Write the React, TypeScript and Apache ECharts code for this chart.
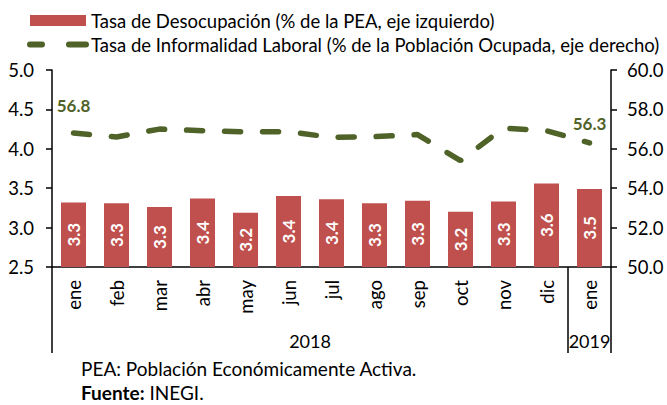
import React, { useEffect, useRef } from "react";
import * as echarts from "echarts";

const months = ["ene", "feb", "mar", "abr", "may", "jun", "jul", "ago", "sep", "oct", "nov", "dic", "ene"];
const years = [
  { label: "2018", count: 12 },
  { label: "2019", count: 1 },
];
const unemployment = [3.32, 3.31, 3.26, 3.37, 3.19, 3.4, 3.36, 3.31, 3.34, 3.2, 3.33, 3.56, 3.49];
const informality = [56.8, 56.6, 57.0, 56.92, 56.86, 56.87, 56.58, 56.62, 56.72, 55.4, 57.05, 56.92, 56.3];
const leftTicks = { min: 2.5, max: 5.0, interval: 0.5 };
const rightTicks = { min: 50, max: 60, interval: 2 };
const barName = "Tasa de Desocupación (% de la PEA, eje izquierdo)";
const lineName = "Tasa de Informalidad Laboral (% de la Población Ocupada, eje derecho)";
const footnote = "PEA: Población Económicamente Activa.";
const source = "INEGI.";

const FONT = "Lato";
const FS = 18.5;
const RED = "#C0504D";
const GREEN = "#4F6228";

export default function App() {
  const ref = useRef<HTMLDivElement>(null);
  useEffect(() => {
    document.body.style.margin = "0";
    if (!ref.current) return;
    const chart = echarts.init(ref.current, null, { renderer: "svg" });

    // year-level axis slots (half-category resolution)
    const slotCount = months.length * 2 + 1;
    const yearSlots: string[] = [];
    for (let i = 0; i < slotCount; i++) yearSlots.push("s" + i);
    const labelAt: Record<number, string> = {};
    const tickAt = new Set<number>([0]);
    let start = 0;
    years.forEach((y) => {
      labelAt[2 * start + y.count] = y.label;
      start += y.count;
      tickAt.add(2 * start);
    });

    const last = informality.length - 1;
    const lineData = informality.map((v, i) => ({
      value: v,
      label: {
        show: i === 0 || i === last,
        distance: i === 0 ? 19 : 11,
      },
    }));

    const axisLabelBase = { fontSize: FS, color: "#000", fontFamily: FONT };

    chart.setOption({
      animation: false,
      textStyle: { fontFamily: FONT, color: "#000" },
      grid: { left: 52, right: 56, top: 70, bottom: 138 },
      legend: {
        orient: "vertical",
        left: 22,
        top: 6,
        itemWidth: 56,
        itemHeight: 11,
        itemGap: 5,
        textStyle: { fontFamily: FONT, fontSize: FS, color: "#000" },
        data: [
          { name: barName, icon: "rect" },
          {
            name: lineName,
            itemStyle: { opacity: 0 },
            lineStyle: { width: 6, type: [12, 27, 17, 20], cap: "round", color: GREEN },
          },
        ],
      },
      xAxis: [
        {
          type: "category",
          data: months,
          axisLine: { lineStyle: { color: "#000", width: 1.5 } },
          axisTick: { show: false },
          axisLabel: { ...axisLabelBase, rotate: 90, margin: 13 },
        },
        {
          type: "category",
          data: yearSlots,
          boundaryGap: false,
          position: "bottom",
          offset: 86,
          axisLine: { show: false },
          axisTick: {
            show: true,
            inside: true,
            length: 86,
            interval: (idx: number) => tickAt.has(idx),
            lineStyle: { color: "#000", width: 1.5 },
          },
          axisLabel: {
            ...axisLabelBase,
            fontSize: 18,
            inside: true,
            interval: 0,
            margin: 3,
            formatter: (_v: string, idx: number) => labelAt[idx] || "",
          },
        },
      ],
      yAxis: [
        {
          type: "value",
          ...leftTicks,
          splitLine: { show: false },
          axisLine: { show: true, lineStyle: { color: "#000", width: 1.5 } },
          axisTick: { show: true, length: 6, lineStyle: { color: "#000", width: 1.5 } },
          axisLabel: { ...axisLabelBase, margin: 18, formatter: (v: number) => v.toFixed(1) },
        },
        {
          type: "value",
          ...rightTicks,
          position: "right",
          splitLine: { show: false },
          axisLine: { show: true, lineStyle: { color: "#000", width: 1.5 } },
          axisTick: { show: true, length: 6, lineStyle: { color: "#000", width: 1.5 } },
          axisLabel: { ...axisLabelBase, margin: 16, formatter: (v: number) => v.toFixed(1) },
        },
      ],
      series: [
        {
          name: barName,
          type: "bar",
          data: unemployment,
          barWidth: 25,
          itemStyle: { color: RED },
          label: {
            show: true,
            position: "inside",
            rotate: 90,
            color: "#fff",
            fontWeight: "bold",
            fontSize: 17,
            fontFamily: FONT,
            formatter: (p: any) => Number(p.value).toFixed(1),
          },
        },
        {
          name: lineName,
          type: "line",
          yAxisIndex: 1,
          data: lineData,
          symbol: "circle",
          symbolSize: 0,
          showSymbol: true,
          showAllSymbol: true,
          lineStyle: { color: GREEN, width: 5.5, type: [16, 22], cap: "round" },
          itemStyle: { color: GREEN },
          label: {
            show: false,
            position: "top",
            color: GREEN,
            fontWeight: "bold",
            fontSize: 17,
            fontFamily: FONT,
            formatter: (p: any) => Number(p.value).toFixed(1),
          },
        },
      ],
      graphic: [
        {
          type: "text",
          left: 81,
          top: 359,
          style: { text: footnote, fontSize: 19, fontFamily: FONT, fill: "#000" },
        },
        {
          type: "text",
          left: 81,
          top: 383,
          style: {
            text: "{b|Fuente:} " + source,
            fontSize: 19,
            fontFamily: FONT,
            fill: "#000",
            rich: { b: { fontWeight: "bold", fontSize: 19, fontFamily: FONT, fill: "#000" } },
          },
        },
      ],
    });
    return () => chart.dispose();
  }, []);
  return <div ref={ref} style={{ width: 667, height: 405 }} />;
}
